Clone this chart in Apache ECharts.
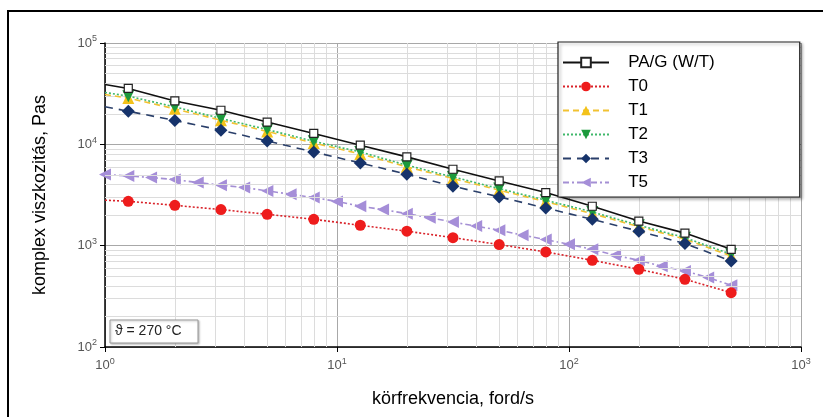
<!DOCTYPE html>
<html><head><meta charset="utf-8">
<script src="https://cdn.jsdelivr.net/npm/echarts@6/dist/echarts.min.js"></script>
<style>html,body{margin:0;padding:0;background:#fff}#c{width:823px;height:417px}</style>
</head><body><div id="c"></div>
<script>
// frequencies (ford/s); index 0 is the line start without marker
const freqMain = [1, 1.26, 2, 3.16, 5, 7.94, 12.6, 20, 31.6, 50, 79.4, 126, 200, 316, 500];
const freqT5 = [1, 1.26, 1.58, 2, 2.51, 3.16, 3.98, 5.01, 6.31, 7.94, 10, 12.6, 15.8, 20, 25.1, 31.6, 39.8, 50.1, 63.1, 79.4, 100, 126, 158, 200, 251, 316, 398, 501];
const valPAG = [38900, 35600, 26800, 21700, 16600, 12800, 9800, 7520, 5680, 4350, 3340, 2450, 1750, 1330, 920];
const valT0 = [2810, 2740, 2500, 2270, 2040, 1820, 1590, 1390, 1200, 1025, 867, 717, 585, 466, 344];
const valT1 = [31000, 28600, 22400, 17300, 13400, 10300, 8050, 6000, 4600, 3530, 2720, 2070, 1540, 1160, 790];
const valT2 = [32500, 29900, 23400, 18000, 14000, 10700, 8410, 6220, 4770, 3660, 2810, 2150, 1590, 1200, 822];
const valT3 = [23500, 21200, 17200, 13800, 10800, 8400, 6550, 5070, 3860, 3030, 2350, 1820, 1390, 1050, 706];
const valT5 = [5030, 4880, 4700, 4490, 4200, 3950, 3750, 3470, 3220, 2980, 2730, 2450, 2270, 2070, 1890, 1710, 1560, 1420, 1270, 1150, 1030, 921, 803, 717, 626, 563, 484, 406];
const seriesNames = ['PA/G (W/T)', 'T0', 'T1', 'T2', 'T3', 'T5'];
const minorX = [2,3,4,5,6,7,8,9,20,30,40,50,60,70,80,90,200,300,400,500,600,700,800,900];
const minorY = [200,300,400,500,600,700,800,900,2000,3000,4000,5000,6000,7000,8000,9000,20000,30000,40000,50000,60000,70000,80000,90000];
const annotation = 'ϑ = 270 °C';

function pairs(xs, ys, skipFirst) {
  return xs.map((x, i) => (skipFirst && i === 0) ? {value: [x, ys[i]], symbol: 'none'} : [x, ys[i]]);
}
const FONT = '"Liberation Sans", Arial, sans-serif';
const supFmt = v => '{b|10}{s|' + Math.round(Math.log10(v)) + '}';
const rich = {b: {fontSize: 13, color: '#555', fontFamily: FONT}, s: {fontSize: 9, color: '#555', fontFamily: FONT, verticalAlign: 'top', padding: [0, 0, 8, 0]}};

const chart = echarts.init(document.getElementById('c'));
chart.setOption({
  animation: false,
  backgroundColor: '#fff',
  grid: {left: 105, right: 22, top: 43, bottom: 70},
  xAxis: {
    type: 'log', logBase: 10, min: 1, max: 1000,
    name: 'körfrekvencia, ford/s', nameLocation: 'middle', nameGap: 43,
    nameTextStyle: {fontSize: 18, color: '#000', fontFamily: FONT},
    axisLine: {lineStyle: {color: '#000', width: 1.5}},
    axisTick: {inside: false, length: 5, lineStyle: {color: '#000'}},
    axisLabel: {formatter: supFmt, rich: rich, margin: 10},
    splitLine: {show: true, lineStyle: {color: '#a8a8a8', width: 1}}
  },
  yAxis: {
    type: 'log', logBase: 10, min: 100, max: 100000,
    name: 'komplex viszkozitás, Pas', nameLocation: 'middle', nameGap: 56, nameRotate: 90,
    nameTextStyle: {fontSize: 18, color: '#000', fontFamily: FONT},
    axisLine: {show: true, lineStyle: {color: '#000', width: 1.5}},
    axisTick: {show: true, length: 5, lineStyle: {color: '#000'}},
    axisLabel: {formatter: supFmt, rich: rich, margin: 8},
    splitLine: {show: true, lineStyle: {color: '#a8a8a8', width: 1}}
  },
  legend: {
    orient: 'vertical', left: 558, top: 42, z: 50,
    data: seriesNames,
    formatter: name => '   ' + name,
    backgroundColor: '#fff', borderColor: '#222', borderWidth: 1.2,
    shadowColor: 'rgba(0,0,0,0.3)', shadowBlur: 3, shadowOffsetX: 2, shadowOffsetY: 2,
    padding: [12, 85, 6, 4], itemGap: 7, itemWidth: 46, itemHeight: 12,
    textStyle: {fontSize: 17, color: '#000', fontFamily: FONT}
  },
  graphic: [
    {type: 'rect', shape: {x: 8, y: 11, width: 840, height: 440}, style: {fill: 'none', stroke: '#000', lineWidth: 2}, z: 100},
    {type: 'rect', shape: {x: 110, y: 320, width: 88, height: 23}, style: {fill: '#fff', stroke: '#999', lineWidth: 1, shadowColor: 'rgba(0,0,0,0.25)', shadowBlur: 2, shadowOffsetX: 1, shadowOffsetY: 1}, z: 50},
    {type: 'text', x: 115, y: 324, style: {text: annotation, fontSize: 14, fill: '#222', fontFamily: FONT}, z: 51}
  ],
  series: [
    {type: 'line', name: '_minor', data: [], silent: true, z: 1,
      markLine: {silent: true, symbol: 'none', label: {show: false}, animation: false,
        lineStyle: {color: '#dcdcdc', type: 'solid', width: 1},
        data: minorX.map(v => ({xAxis: v})).concat(minorY.map(v => ({yAxis: v})))}},
    {type: 'line', name: seriesNames[0], data: pairs(freqMain, valPAG, true), z: 10,
      lineStyle: {color: '#111', width: 1.6, type: 'solid'}, itemStyle: {color: '#fff', borderColor: '#222', borderWidth: 1.2},
      symbol: 'rect', symbolSize: 8, color: '#222'},
    {type: 'line', name: seriesNames[1], data: pairs(freqMain, valT0, true), z: 5,
      lineStyle: {color: '#d9232a', width: 1.6, type: [2, 2]}, itemStyle: {color: '#ee1c1c'},
      symbol: 'circle', symbolSize: 11},
    {type: 'line', name: seriesNames[2], data: pairs(freqMain, valT1, true), z: 6,
      lineStyle: {color: '#f1c232', width: 1.6, type: [6, 4]}, itemStyle: {color: '#f3c21a'},
      symbol: 'triangle', symbolSize: 12},
    {type: 'line', name: seriesNames[3], data: pairs(freqMain, valT2, true), z: 7,
      lineStyle: {color: '#3fb86a', width: 1.6, type: [2, 2]}, itemStyle: {color: '#1c9a3c'},
      symbol: 'triangle', symbolRotate: 180, symbolSize: 12},
    {type: 'line', name: seriesNames[4], data: pairs(freqMain, valT3, true), z: 8,
      lineStyle: {color: '#2a3f6a', width: 1.6, type: [8, 6]}, itemStyle: {color: '#16336b'},
      symbol: 'diamond', symbolSize: 13},
    {type: 'line', name: seriesNames[5], data: pairs(freqT5, valT5, false), z: 4,
      lineStyle: {color: '#a48fd4', width: 1.6, type: [6, 3, 2, 3]}, itemStyle: {color: '#a58ed8'},
      symbol: 'triangle', symbolRotate: 90, symbolSize: 12}
  ]
});
</script></body></html>
